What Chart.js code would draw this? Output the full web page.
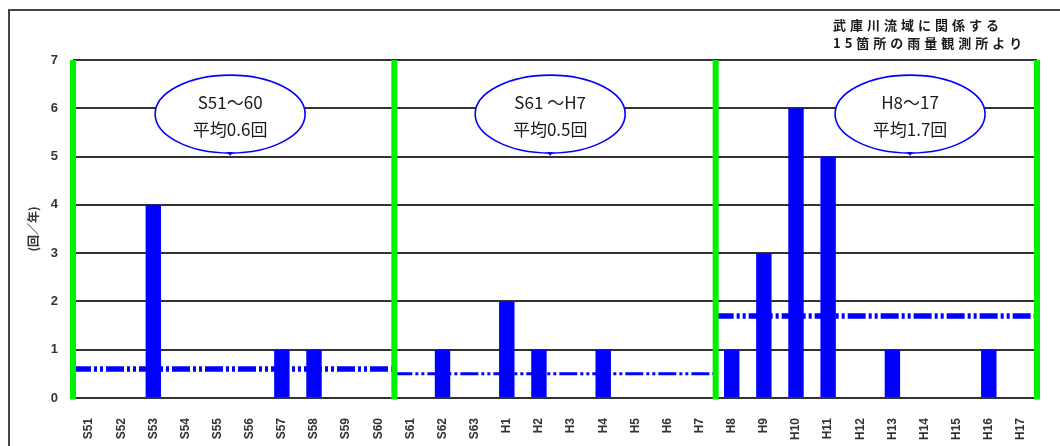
<!DOCTYPE html>
<html>
<head>
<meta charset="utf-8">
<script src="https://cdn.jsdelivr.net/npm/chart.js@4.4.1/dist/chart.umd.min.js"></script>
<style>
  html, body { margin: 0; background: #fff; }
  #wrap { width: 1060px; height: 446px; }
</style>
</head>
<body>
<div id="wrap"><canvas id="rainChart"></canvas></div>
<script>
/* ── DATA ── */
const years = ["S51", "S52", "S53", "S54", "S55", "S56", "S57", "S58", "S59", "S60",
               "S61", "S62", "S63", "H1", "H2", "H3", "H4", "H5", "H6", "H7",
               "H8", "H9", "H10", "H11", "H12", "H13", "H14", "H15", "H16", "H17"];
const counts = [0, 0, 4, 0, 0, 0, 1, 1, 0, 0,
                0, 1, 0, 2, 1, 0, 1, 0, 0, 0,
                1, 3, 6, 5, 0, 1, 0, 0, 1, 0];
const groupEdges = [0, 10, 20, 30];
const groupAvg = [0.6, 0.5, 1.7];
const groupNotes = [["S51～60", "平均0.6回"], ["S61 ～H7", "平均0.5回"], ["H8～17", "平均1.7回"]];
const sourceNote = ["武庫川流域に関係する", "15箇所の雨量観測所より"];
const yMax = 7;

const BLUE = "#0000ff";
const GREEN = "#00f000";

// garis rata-rata tiap periode
const avgSets = groupAvg.map((v, i) => ({
    type: "line",
    xAxisID: "x2",
    yAxisID: "y",
    data: [{ x: groupEdges[i], y: v }, { x: groupEdges[i + 1], y: v }],
    borderColor: BLUE,
    borderWidth: i === 1 ? 3 : 5.5,
    borderDash: [18, 3, 3, 3, 3, 3],
    pointRadius: 0,
    order: 1,
}));

// garis hijau pemisah periode
const edgeSets = groupEdges.map((e) => ({
    type: "line",
    xAxisID: "x2",
    yAxisID: "y",
    data: [{ x: e, y: -0.03 }, { x: e, y: yMax }],
    borderColor: GREEN,
    borderWidth: 6,
    pointRadius: 0,
    clip: false,
    order: 0,
}));

const decoPlugin = {
    id: "deco",
    beforeDraw(chart) {
        const c = chart.ctx;
        c.save();
        c.fillStyle = "#fff";
        c.fillRect(0, 0, chart.width, chart.height);
        c.strokeStyle = "#444";
        c.lineWidth = 2;
        c.beginPath();
        c.moveTo(9, chart.height);
        c.lineTo(9, 10);
        c.lineTo(chart.width, 10);
        c.stroke();
        c.restore();
    },
    afterDatasetsDraw(chart) {
        const c = chart.ctx;
        const x2 = chart.scales.x2, y = chart.scales.y;
        const spots = [4.89, 14.85, 26.05];
        c.save();
        groupNotes.forEach((lines, i) => {
            const cx = x2.getPixelForValue(spots[i]);
            const cy = y.getPixelForValue(5.88);
            c.beginPath();
            c.ellipse(cx, cy, 75, 39, 0, 0, Math.PI * 2);
            c.fillStyle = "#fff";
            c.fill();
            c.strokeStyle = BLUE;
            c.lineWidth = 1.6;
            c.stroke();
            c.beginPath();
            c.moveTo(cx - 3, cy + 38);
            c.lineTo(cx, cy + 42);
            c.lineTo(cx + 3, cy + 38);
            c.fillStyle = BLUE;
            c.fill();
            c.fillStyle = "#1a1a1a";
            c.font = "17px 'Noto Sans CJK JP'";
            c.textAlign = "center";
            c.textBaseline = "middle";
            c.fillText(lines[0], cx, cy - 12);
            c.fillText(lines[1], cx, cy + 15);
        });
        c.font = "bold 13px 'Noto Sans CJK JP'";
        c.fillStyle = "#1a1a1a";
        c.textAlign = "left";
        c.textBaseline = "middle";
        c.letterSpacing = "4px";
        c.fillText(sourceNote[0], 833, 25);
        c.fillText(sourceNote[1], 833, 43);
        c.restore();
    },
};

const ctx = document.getElementById("rainChart").getContext("2d");
new Chart(ctx, {
    type: "bar",
    data: {
        labels: years,
        datasets: [
            {
                label: "回数",
                data: counts,
                xAxisID: "x",
                yAxisID: "y",
                backgroundColor: BLUE,
                barPercentage: 0.48,
                categoryPercentage: 1,
                grouped: false,
                order: 2,
            },
            ...avgSets,
            ...edgeSets,
        ],
    },
    options: {
        responsive: true,
        maintainAspectRatio: false,
        animation: false,
        layout: { padding: { top: 60, right: 23, left: 0, bottom: 0 } },
        plugins: { legend: { display: false }, tooltip: { enabled: false } },
        scales: {
            x: {
                type: "category",
                offset: true,
                grid: { display: false },
                border: { display: false },
                afterFit: (s) => { s.height = 48; },
                ticks: {
                    autoSkip: false,
                    maxRotation: 90,
                    minRotation: 90,
                    padding: 12,
                    color: "#333",
                    font: { family: "Liberation Sans", size: 12, weight: "bold" },
                },
            },
            x2: {
                type: "linear",
                position: "bottom",
                min: 0,
                max: 30,
                offset: false,
                grid: { offset: false, display: false },
                display: false,
            },
            y: {
                min: 0,
                max: yMax,
                afterFit: (s) => { s.width = 73; },
                grid: { color: "#333", lineWidth: 2, drawTicks: false },
                border: { display: false },
                ticks: {
                    stepSize: 1,
                    padding: 15,
                    color: "#333",
                    font: { family: "Liberation Sans", size: 13, weight: "bold" },
                },
                title: {
                    display: true,
                    text: "(回／年)",
                    padding: { top: 26 },
                    color: "#333",
                    font: { family: "Noto Sans CJK JP", size: 12, weight: "bold" },
                },
            },
        },
    },
    plugins: [decoPlugin],
});
</script>
</body>
</html>
